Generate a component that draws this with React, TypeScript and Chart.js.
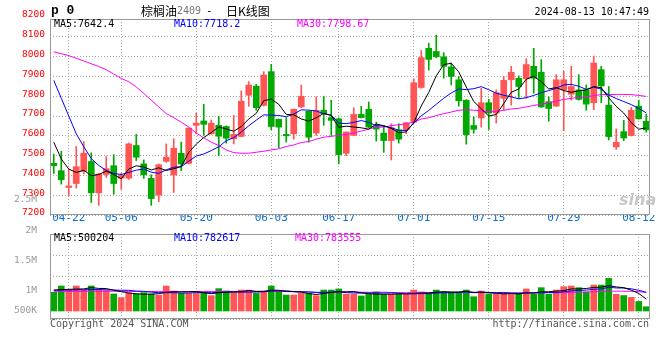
import React, { useEffect, useRef } from 'react';
import { Chart, registerables } from 'chart.js';

Chart.register(...registerables);

const MONO = '"DejaVu Sans Mono", "Liberation Mono", monospace';
const CJK = '"Noto Sans CJK SC", "Noto Sans", sans-serif';
const UP = '#ff5555';
const DOWN = '#00a800';
const GRID = '#a8a8a8';
const FRAME = '#999999';
const NONE = 'rgba(0,0,0,0)';

// ---------------- data ----------------
const dates = [
  '04-18', '04-19', '04-22', '04-23', '04-24', '04-25', '04-26', '04-29', '04-30',
  '05-06', '05-07', '05-08', '05-09', '05-10', '05-13', '05-14', '05-15', '05-16', '05-17',
  '05-20', '05-21', '05-22', '05-23', '05-24', '05-27', '05-28', '05-29', '05-30', '05-31',
  '06-03', '06-04', '06-05', '06-06', '06-07', '06-11', '06-12', '06-13', '06-14',
  '06-17', '06-18', '06-19', '06-20', '06-21', '06-24', '06-25', '06-26', '06-27', '06-28',
  '07-01', '07-02', '07-03', '07-04', '07-05', '07-08', '07-09', '07-10', '07-11', '07-12',
  '07-15', '07-16', '07-17', '07-18', '07-19', '07-22', '07-23', '07-24', '07-25', '07-26',
  '07-29', '07-30', '07-31', '08-01', '08-02', '08-05', '08-06', '08-07', '08-08', '08-09',
  '08-12', '08-13',
];
const xTickDates = ['04-22', '05-06', '05-20', '06-03', '06-17', '07-01', '07-15', '07-29', '08-12'];

const opens = [
  7461, 7424, 7339, 7359, 7420, 7470, 7312, 7405, 7449, 7386,
  7386, 7551, 7458, 7385, 7300, 7471, 7402, 7512, 7461, 7653,
  7675, 7610, 7653, 7647, 7585, 7597, 7805, 7851, 7754, 7924,
  7683, 7607, 7610, 7746, 7724, 7614, 7729, 7692, 7686, 7512,
  7602, 7708, 7734, 7647, 7614, 7576, 7630, 7632, 7669, 7844,
  8042, 8026, 7999, 7948, 7883, 7780, 7652, 7690, 7767, 7715,
  7789, 7883, 7890, 7888, 7951, 7921, 7772, 7750, 7832, 7810,
  7832, 7832, 7767, 7934, 7755, 7544, 7621, 7601, 7750, 7674,
];
const highs = [
  7508, 7522, 7430, 7546, 7571, 7514, 7410, 7495, 7505, 7410,
  7564, 7607, 7478, 7403, 7458, 7559, 7585, 7568, 7640, 7715,
  7759, 7680, 7698, 7650, 7703, 7827, 7873, 7860, 7924, 7961,
  7685, 7692, 7736, 7856, 7726, 7797, 7800, 7780, 7690, 7620,
  7742, 7749, 7771, 7669, 7653, 7661, 7661, 7668, 7888, 8031,
  8068, 8108, 8020, 7968, 7900, 7782, 7695, 7840, 7784, 7832,
  7900, 7951, 7903, 7989, 8042, 7985, 7797, 7909, 7926, 7951,
  7909, 7857, 8003, 7951, 7849, 7635, 7678, 7743, 7780, 7709,
];
const lows = [
  7410, 7356, 7297, 7336, 7407, 7263, 7249, 7390, 7305, 7330,
  7380, 7475, 7385, 7249, 7268, 7466, 7314, 7424, 7458, 7610,
  7602, 7608, 7500, 7563, 7559, 7595, 7749, 7729, 7750, 7631,
  7539, 7568, 7583, 7742, 7568, 7602, 7653, 7602, 7458, 7500,
  7600, 7690, 7640, 7573, 7517, 7478, 7563, 7610, 7665, 7840,
  7932, 7994, 7891, 7857, 7750, 7558, 7613, 7644, 7632, 7664,
  7729, 7755, 7789, 7789, 7815, 7743, 7674, 7748, 7626, 7780,
  7780, 7729, 7732, 7767, 7579, 7532, 7575, 7599, 7684, 7618,
];
const closes = [
  7449, 7378, 7347, 7444, 7512, 7312, 7407, 7434, 7359, 7400,
  7559, 7492, 7403, 7283, 7454, 7492, 7537, 7458, 7639, 7664,
  7658, 7664, 7598, 7588, 7607, 7775, 7856, 7742, 7907, 7647,
  7644, 7600, 7734, 7800, 7593, 7729, 7712, 7678, 7505, 7619,
  7708, 7692, 7644, 7634, 7576, 7641, 7583, 7666, 7868, 7995,
  7986, 7999, 7951, 7900, 7777, 7606, 7633, 7767, 7715, 7818,
  7880, 7921, 7849, 7960, 7891, 7746, 7738, 7883, 7883, 7849,
  7784, 7760, 7968, 7852, 7596, 7567, 7589, 7729, 7686, 7630,
];

const ma5 = [
  7568, 7483, 7432, 7415, 7426.0, 7398.6, 7404.4, 7421.8, 7404.8, 7382.4,
  7431.8, 7448.8, 7442.6, 7427.4, 7438.2, 7424.8, 7433.8, 7444.8, 7516.0, 7558.0,
  7591.2, 7616.6, 7644.6, 7634.4, 7623.0, 7646.4, 7684.8, 7713.6, 7777.4, 7785.4,
  7759.2, 7708.0, 7706.4, 7685.0, 7674.2, 7691.2, 7713.6, 7702.4, 7643.4, 7648.6,
  7644.4, 7640.4, 7633.6, 7659.4, 7650.8, 7637.4, 7615.6, 7620.0, 7666.8, 7750.6,
  7819.6, 7902.8, 7959.8, 7966.2, 7922.6, 7846.6, 7773.4, 7736.6, 7699.6, 7707.8,
  7762.6, 7820.2, 7836.6, 7885.6, 7900.2, 7873.4, 7836.8, 7843.6, 7828.2, 7819.8,
  7827.4, 7831.8, 7848.8, 7842.6, 7792.0, 7748.6, 7714.4, 7666.6, 7633.4, 7640.2,
];
const ma10 = [
  7880, 7790, 7700, 7610, 7545, 7485, 7450, 7425, 7410, 7404.2,
  7415.2, 7426.6, 7432.2, 7416.1, 7410.3, 7428.3, 7441.3, 7443.7, 7471.7, 7498.1,
  7508.0, 7525.2, 7544.7, 7575.2, 7590.5, 7618.8, 7650.7, 7679.1, 7705.9, 7704.2,
  7702.8, 7696.4, 7710.0, 7731.2, 7729.8, 7725.2, 7710.8, 7704.4, 7664.2, 7661.4,
  7667.8, 7677.0, 7668.0, 7651.4, 7649.7, 7640.9, 7628.0, 7626.8, 7663.1, 7700.7,
  7728.5, 7759.2, 7789.9, 7816.5, 7836.6, 7833.1, 7838.1, 7848.2, 7832.9, 7815.2,
  7804.6, 7796.8, 7786.6, 7792.6, 7804.0, 7818.0, 7828.5, 7840.1, 7856.9, 7860.0,
  7850.4, 7834.3, 7846.2, 7835.4, 7805.9, 7788.0, 7773.1, 7757.7, 7738.0, 7716.1,
];
const ma30 = [
  8024, 8015, 8005, 7992, 7978, 7964, 7950, 7934, 7912, 7890,
  7873, 7847, 7814, 7780, 7746, 7712, 7692, 7669, 7644, 7614,
  7590, 7568, 7551, 7529, 7515, 7512, 7512, 7517, 7522, 7529,
  7534, 7546, 7554, 7566, 7571, 7583, 7593, 7597, 7603, 7607,
  7614, 7624, 7634, 7644, 7644, 7651, 7656, 7661, 7669, 7685,
  7691, 7702, 7712, 7720, 7729, 7732, 7729, 7726, 7722, 7722,
  7729, 7736, 7739, 7746, 7753, 7760, 7767, 7775, 7784, 7789,
  7794, 7797, 7803, 7808, 7809, 7809, 7809, 7808, 7804, 7799,
];

// volume, in thousands of lots
const volumes = [
  785, 1050, 880, 1050, 880, 1050, 880, 855, 715, 560,
  770, 715, 770, 715, 670, 1050, 840, 740, 740, 740,
  770, 645, 940, 840, 770, 880, 880, 740, 840, 1050,
  840, 670, 670, 740, 740, 645, 880, 880, 925, 700,
  700, 630, 700, 800, 700, 700, 700, 700, 880, 800,
  700, 880, 800, 800, 800, 880, 600, 840, 700, 700,
  740, 700, 740, 925, 700, 980, 700, 880, 1020, 1050,
  980, 800, 1090, 1090, 1370, 700, 650, 570, 400, 180,
];
const volMa5 = [
  880, 900, 910, 920, 929, 982, 948, 943, 876, 812,
  756, 723, 706, 706, 728, 784, 809, 803, 808, 822,
  766, 727, 767, 787, 793, 815, 862, 822, 822, 878,
  870, 828, 814, 794, 732, 693, 735, 777, 814, 806,
  817, 767, 731, 706, 706, 706, 720, 720, 736, 756,
  756, 792, 812, 796, 796, 832, 776, 784, 764, 744,
  716, 736, 716, 761, 761, 809, 809, 837, 856, 926,
  926, 946, 988, 1002, 1066, 1010, 980, 876, 738, 500,
];
const volMa10 = [
  870, 880, 880, 890, 890, 900, 900, 890, 880, 870.5,
  869, 835.5, 824.5, 791, 770, 770, 766, 754.5, 757, 775,
  775, 768, 785, 797.5, 807.5, 790.5, 794.5, 794.5, 804.5, 835.5,
  842.5, 845, 818, 808, 805, 781.5, 781.5, 795.5, 804, 769,
  755, 751, 754, 760, 756, 761.5, 743.5, 725.5, 721, 731,
  731, 756, 766, 766, 776, 794, 784, 798, 780, 770,
  774, 756, 750, 762.5, 752.5, 762.5, 772.5, 776.5, 808.5, 843.5,
  867.5, 877.5, 912.5, 929, 996, 968, 963, 932, 870, 783,
];
const volMa30 = [
  812, 815, 818, 822, 825, 828, 830, 830, 828, 826,
  824, 822, 820, 818, 816, 815, 815, 816, 818, 820,
  820, 821, 822, 823, 824, 825, 826, 826, 827, 827,
  828.8, 816.2, 809.2, 798.8, 794.2, 780.7, 780.7, 781.5, 788.5, 793.2,
  790.8, 788, 785.7, 788.5, 789.5, 777.8, 773.2, 771.8, 776.5, 778.5,
  776.2, 784, 779.3, 778, 779, 779, 769.7, 773, 768.3, 756.7,
  753.3, 754.3, 756.7, 762.8, 761.5, 772.7, 766.7, 766.7, 769.8, 781.5,
  790.8, 796.5, 809.5, 819.2, 830, 832, 830, 826, 812, 784,
];

const priceTicks = [7200, 7300, 7400, 7500, 7600, 7700, 7800, 7900, 8000, 8100, 8200];
const priceMin = 7200;
const priceMax = 8190;

// volume axis labels as printed by the source (positions in thousands of lots)
const volTickLabels = ['2.5M', '2M', '1.5M', '1M', '500K'];
const volTickValues = [4662, 3360, 2113, 853, 13];
const volMin = -336;
const volMax = 3234;

const priceLegend = [
  { text: 'MA5:7642.4', color: '#000000', left: 54 },
  { text: 'MA10:7718.2', color: '#0000ff', left: 174 },
  { text: 'MA30:7798.67', color: '#ff00ff', left: 297 },
];
const volLegend = [
  { text: 'MA5:500204', color: '#000000', left: 54 },
  { text: 'MA10:782617', color: '#0000ff', left: 174 },
  { text: 'MA30:783555', color: '#ff00ff', left: 295 },
];

const isUp = closes.map((c, i) => c >= opens[i]);
const barColors = isUp.map((u) => (u ? UP : DOWN));

const framePlugin = {
  id: 'frame',
  afterDatasetsDraw(chart: any) {
    const { ctx, chartArea } = chart;
    const l = Math.round(chartArea.left);
    const t = Math.round(chartArea.top);
    const r = Math.round(chartArea.right);
    const b = Math.round(chartArea.bottom);
    ctx.save();
    ctx.strokeStyle = FRAME;
    ctx.lineWidth = 1;
    ctx.setLineDash([]);
    ctx.strokeRect(l + 0.5, t + 0.5, r - l - 1, b - t - 1);
    ctx.restore();
  },
};

const lineDs = (data: number[], color: string) => ({
  type: 'line' as const,
  data,
  borderColor: color,
  borderWidth: 1,
  pointRadius: 0,
  tension: 0,
  fill: false,
  order: 0,
});

const xGridColor = (c: any) => (xTickDates.includes(dates[c.index]) ? GRID : NONE);

export default function App() {
  const priceRef = useRef<HTMLCanvasElement>(null);
  const volRef = useRef<HTMLCanvasElement>(null);

  useEffect(() => {
    const priceChart = new Chart(priceRef.current as HTMLCanvasElement, {
      type: 'bar',
      data: {
        labels: dates,
        datasets: [
          lineDs(ma5, '#000000'),
          lineDs(ma10, '#0000ff'),
          lineDs(ma30, '#ff00ff'),
          {
            type: 'bar',
            data: opens.map((o, i) => [o, closes[i]]),
            backgroundColor: barColors,
            barThickness: 6,
            grouped: false,
            minBarLength: 1,
            order: 1,
          },
          {
            type: 'bar',
            data: lows.map((l, i) => [l, highs[i]]),
            backgroundColor: barColors,
            barThickness: 1,
            grouped: false,
            order: 2,
          },
        ] as any,
      },
      options: {
        responsive: false,
        animation: false,
        events: [],
        layout: { padding: { top: 19, right: 10, left: 0, bottom: 0 } },
        plugins: { legend: { display: false }, tooltip: { enabled: false } },
        scales: {
          x: {
            type: 'category',
            offset: true,
            grid: { offset: false, color: xGridColor, drawTicks: false, lineWidth: 1 },
            border: { display: false, dash: [1, 2] },
            ticks: {
              autoSkip: false,
              maxRotation: 0,
              minRotation: 0,
              padding: -3,
              color: '#0b6fd0',
              font: { family: MONO, size: 11 },
              callback: (_v: any, i: number) => (xTickDates.includes(dates[i]) ? dates[i] : ''),
            },
            afterFit: (s: any) => {
              s.height = 15;
            },
          },
          y: {
            type: 'linear',
            min: priceMin,
            max: priceMax,
            afterBuildTicks: (s: any) => {
              s.ticks = priceTicks.map((v) => ({ value: v }));
            },
            grid: {
              color: (c: any) => (c.tick && c.tick.value <= priceMax ? GRID : NONE),
              drawTicks: false,
              lineWidth: 1,
            },
            border: { display: false, dash: [1, 2] },
            ticks: {
              autoSkip: false,
              color: '#ff0000',
              padding: 5,
              labelOffset: -2,
              font: { family: MONO, size: 9.5 },
              callback: (v: any) => String(v),
            },
            afterFit: (s: any) => {
              s.width = 50;
            },
          },
        },
      } as any,
      plugins: [framePlugin],
    });

    const volChart = new Chart(volRef.current as HTMLCanvasElement, {
      type: 'bar',
      data: {
        labels: dates,
        datasets: [
          lineDs(volMa5, '#000000'),
          lineDs(volMa10, '#0000ff'),
          lineDs(volMa30, '#ff00ff'),
          {
            type: 'bar',
            data: volumes,
            backgroundColor: barColors,
            barThickness: 6,
            grouped: false,
            order: 1,
            yAxisID: 'y',
          },
        ] as any,
      },
      options: {
        responsive: false,
        animation: false,
        events: [],
        layout: { padding: { top: 44, right: 10, left: 0, bottom: 41 } },
        plugins: { legend: { display: false }, tooltip: { enabled: false } },
        scales: {
          x: {
            type: 'category',
            offset: true,
            grid: { offset: false, color: xGridColor, drawTicks: false, lineWidth: 1 },
            border: { display: false, dash: [1, 2] },
            ticks: { display: false },
            afterFit: (s: any) => {
              s.height = 0;
            },
          },
          y: {
            type: 'linear',
            position: 'left',
            min: volMin,
            max: volMax,
            afterBuildTicks: (s: any) => {
              s.ticks = volTickValues.map((v) => ({ value: v }));
            },
            grid: { display: false },
            border: { display: false },
            ticks: {
              autoSkip: false,
              color: '#999999',
              padding: 5,
              font: { family: MONO, size: 9.5 },
              callback: (_v: any, i: number) => volTickLabels[i],
            },
            afterFit: (s: any) => {
              s.width = 50;
            },
          },
          yg: {
            type: 'linear',
            position: 'right',
            min: 0,
            max: 4,
            ticks: { display: false, stepSize: 1 },
            grid: { color: GRID, drawTicks: false, lineWidth: 1 },
            border: { display: false, dash: [1, 2] },
            afterFit: (s: any) => {
              s.width = 0;
            },
          },
        },
      } as any,
      plugins: [framePlugin],
    });

    return () => {
      priceChart.destroy();
      volChart.destroy();
    };
  }, []);

  const txt: React.CSSProperties = {
    position: 'absolute',
    fontFamily: MONO,
    fontSize: 10,
    lineHeight: '12px',
    whiteSpace: 'nowrap',
  };

  return (
    <div
      style={{
        position: 'fixed',
        left: 0,
        top: 0,
        width: 660,
        height: 360,
        background: '#ffffff',
        overflow: 'hidden',
      }}
    >
      <canvas ref={priceRef} width={660} height={230} style={{ position: 'absolute', left: 0, top: 0 }} />
      <canvas ref={volRef} width={660} height={170} style={{ position: 'absolute', left: 0, top: 190 }} />

      <span style={{ ...txt, left: 51, top: 5, fontSize: 13, fontWeight: 'bold', fontFamily: '"Liberation Mono", monospace', color: '#000' }}>
        p 0
      </span>
      <span style={{ ...txt, left: 141, top: 5, fontSize: 12, fontFamily: CJK, color: '#000' }}>棕榈油</span>
      <span style={{ ...txt, left: 177, top: 5, fontSize: 10, color: '#777' }}>2409</span>
      <span style={{ ...txt, left: 206, top: 5, fontSize: 11, color: '#000' }}>-</span>
      <span style={{ ...txt, left: 226, top: 5, fontSize: 12, fontFamily: CJK, color: '#000' }}>日K线图</span>
      <span style={{ ...txt, right: 11, top: 6, color: '#000' }}>2024-08-13 10:47:49</span>

      {priceLegend.map((l) => (
        <span key={l.text} style={{ ...txt, left: l.left, top: 18, color: l.color }}>
          {l.text}
        </span>
      ))}
      {volLegend.map((l) => (
        <span key={l.text} style={{ ...txt, left: l.left, top: 232, color: l.color }}>
          {l.text}
        </span>
      ))}

      <span
        style={{
          ...txt,
          left: 619,
          top: 192,
          fontSize: 16,
          lineHeight: '16px',
          fontFamily: '"DejaVu Sans", sans-serif',
          fontStyle: 'italic',
          fontWeight: 'bold',
          color: '#c8c8c8',
        }}
      >
        sina
      </span>

      <span style={{ ...txt, left: 50, top: 318, color: '#555' }}>Copyright 2024 SINA.COM</span>
      <span style={{ ...txt, right: 11, top: 318, color: '#555' }}>http://finance.sina.com.cn</span>
    </div>
  );
}
